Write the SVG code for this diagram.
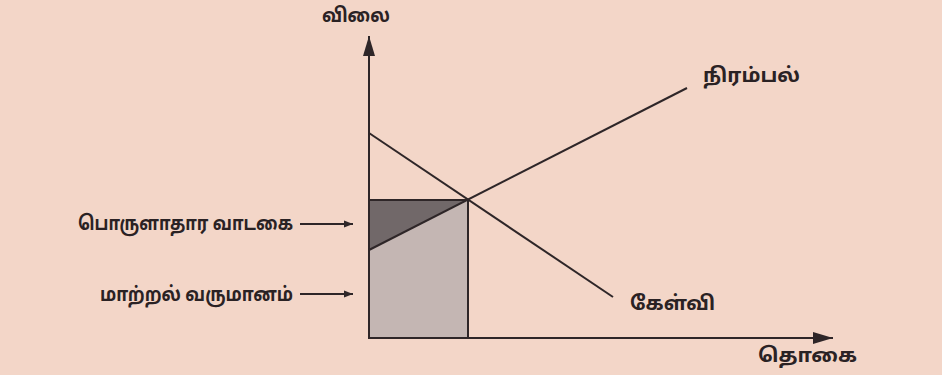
<svg xmlns="http://www.w3.org/2000/svg" width="942" height="375" viewBox="0 0 942 375">
<defs>
<style>
.lbl{font-family:"Noto Sans Tamil","Noto Sans","DejaVu Sans",sans-serif;font-weight:bold;font-size:20px;fill:#2a2224}
.ln{stroke:#2e2628;stroke-width:2;fill:none}
</style>
<marker id="ah" viewBox="0 0 10 10" refX="10" refY="5" markerWidth="9" markerHeight="9" markerUnits="userSpaceOnUse" orient="auto"><path d="M0,1L10,5L0,9z" fill="#2e2628"/></marker>
<marker id="big" viewBox="0 0 10 10" refX="10" refY="5" markerWidth="20" markerHeight="20" markerUnits="userSpaceOnUse" orient="auto"><path d="M0,2L10,5L0,8z" fill="#2e2628"/></marker>
</defs>
<rect width="942" height="375" fill="#f3d6c8"/>
<g id="areas">
<rect x="369" y="200" width="99" height="138" fill="#c4b6b3" stroke="#2e2628" stroke-width="2"/>
<polygon points="369,200 468,200 369,250" fill="#716869"/>
</g>
<g id="connectors">
<line class="ln" x1="369" y1="338" x2="369" y2="36" marker-end="url(#big)"/>
<line class="ln" x1="369" y1="338" x2="833" y2="338" marker-end="url(#big)"/>
<line class="ln" x1="369" y1="133" x2="613" y2="297"/>
<line class="ln" x1="369" y1="250" x2="687" y2="88"/>
<line class="ln" x1="300" y1="224" x2="353" y2="224" marker-end="url(#ah)"/>
<line class="ln" x1="300" y1="294" x2="353" y2="294" marker-end="url(#ah)"/>
<line class="ln" x1="369" y1="200" x2="468" y2="200"/>
</g>
<g id="price"><text class="lbl" x="322" y="22" textLength="68" lengthAdjust="spacingAndGlyphs">விலை</text></g>
<g id="quantity"><text class="lbl" x="758" y="362" textLength="99" lengthAdjust="spacingAndGlyphs">தொகை</text></g>
<g id="supply"><text class="lbl" x="703" y="82" textLength="97" lengthAdjust="spacingAndGlyphs">நிரம்பல்</text></g>
<g id="demand"><text class="lbl" x="630" y="310" textLength="85" lengthAdjust="spacingAndGlyphs">கேள்வி</text></g>
<g id="rent"><text class="lbl" x="78" y="230" textLength="215" lengthAdjust="spacingAndGlyphs">பொருளாதார வாடகை</text></g>
<g id="transfer"><text class="lbl" x="100" y="301" textLength="193" lengthAdjust="spacingAndGlyphs">மாற்றல் வருமானம்</text></g>
</svg>
